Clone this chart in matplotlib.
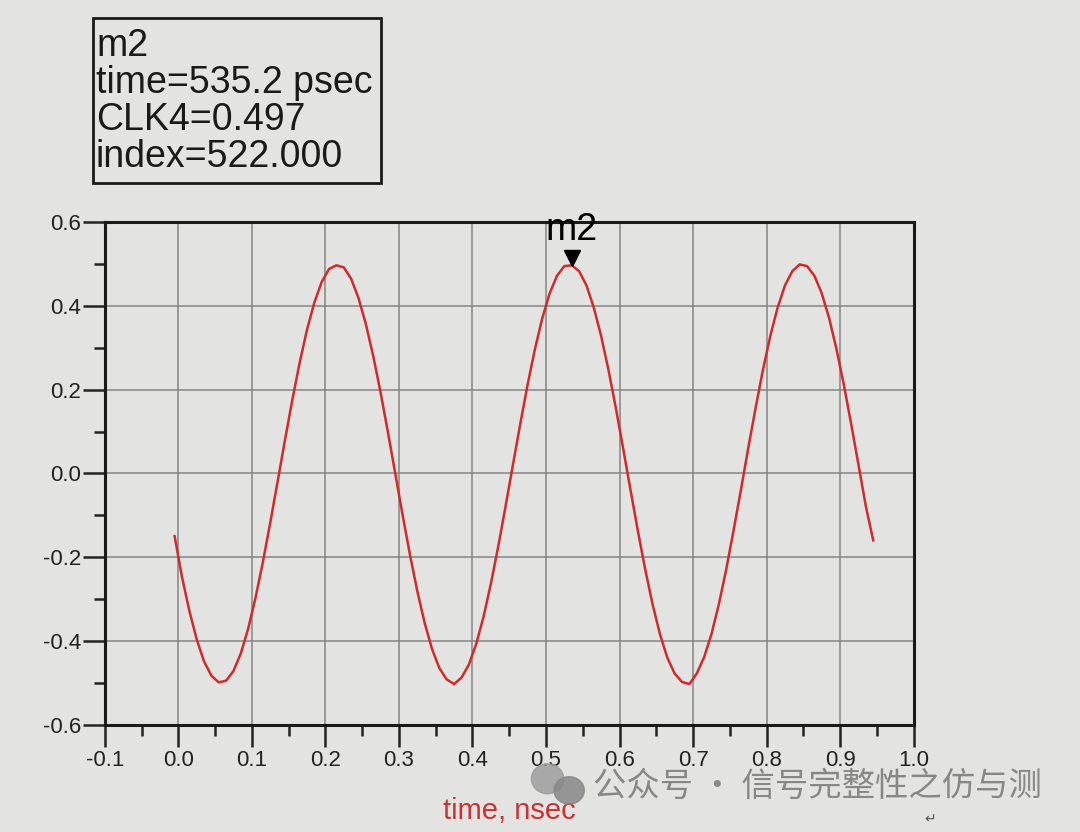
import matplotlib.pyplot as plt
from matplotlib.patches import Ellipse, Rectangle
from matplotlib.ticker import MultipleLocator

plt.rcParams['font.family'] = ['Liberation Sans', 'DejaVu Sans']

# CLK4 waveform (time in nsec, value in V), 10 ps steps
time_ns = [round(-0.005 + 0.01 * i, 3) for i in range(96)]
clk4 = [-0.150, -0.247, -0.328, -0.396, -0.449, -0.483, -0.499, -0.495, -0.472, -0.430,
        -0.371, -0.297, -0.212, -0.118, -0.020, 0.079, 0.175, 0.264, 0.343, 0.408,
        0.457, 0.488, 0.497, 0.492, 0.465, 0.419, 0.357, 0.281, 0.194, 0.099,
        0.000, -0.099, -0.194, -0.281, -0.357, -0.419, -0.465, -0.492, -0.503, -0.488,
        -0.457, -0.408, -0.343, -0.264, -0.175, -0.079, 0.020, 0.118, 0.212, 0.297,
        0.371, 0.430, 0.472, 0.495, 0.497, 0.483, 0.449, 0.396, 0.328, 0.247,
        0.156, 0.059, -0.040, -0.138, -0.230, -0.313, -0.384, -0.440, -0.478, -0.498,
        -0.503, -0.478, -0.439, -0.384, -0.313, -0.230, -0.137, -0.040, 0.060, 0.156,
        0.247, 0.328, 0.396, 0.449, 0.483, 0.499, 0.495, 0.472, 0.430, 0.371,
        0.297, 0.212, 0.118, 0.020, -0.079, -0.160]

marker_name = 'm2'
marker_time = 0.5352
marker_val = 0.497
marker_index = 522

bg = '#e3e3e1'
fig = plt.figure(figsize=(10.8, 8.32), dpi=100, facecolor=bg)
ax = fig.add_axes([0.097, 0.129, 0.749, 0.604], facecolor=bg)

ax.plot(time_ns, clk4, color='#d02a2a', lw=1.8)
ax.plot([marker_time], [marker_val + 0.018], marker='v', color='black', ms=12)
ax.text(marker_time, marker_val + 0.042, marker_name, ha='center', va='bottom', fontsize=27)

ax.set_xlim(-0.1, 1.0)
ax.set_ylim(-0.6, 0.6)
ax.xaxis.set_major_locator(MultipleLocator(0.1))
ax.xaxis.set_minor_locator(MultipleLocator(0.05))
ax.yaxis.set_major_locator(MultipleLocator(0.2))
ax.yaxis.set_minor_locator(MultipleLocator(0.1))
ax.set_xticklabels([f'{v:.1f}' for v in ax.get_xticks()])
ax.set_yticklabels([f'{v:.1f}' for v in ax.get_yticks()])
ax.grid(True, which='major', color='#858585', lw=1.1)
ax.tick_params(which='major', length=16, width=1.8, labelsize=16, pad=2, colors='#222222')
ax.tick_params(which='minor', length=8, width=1.8, colors='#222222')
ax.tick_params(axis='y', pad=1)
for s in ax.spines.values():
    s.set_linewidth(2.2)
    s.set_color('#1a1a1a')

ax.set_xlabel('time, nsec', color='#c83232', fontsize=21, labelpad=19)

# marker readout box
fig.patches.append(Rectangle((93 / 1080, 1 - 183 / 832), 288 / 1080, 165 / 832,
                             transform=fig.transFigure, fill=False, ec='#1a1a1a', lw=2))
fig.text(96 / 1080, 1 - 28 / 832,
         f'{marker_name}\ntime={marker_time * 1000:.1f} psec\nCLK4={marker_val:.3f}\nindex={marker_index:.3f}',
         ha='left', va='top', fontsize=27, linespacing=1.03, color='#1a1a1a')

# watermark
fig.patches.append(Ellipse((0.507, 0.064), 0.030, 0.036, transform=fig.transFigure,
                           color='#9a9a9a', alpha=0.8))
fig.patches.append(Ellipse((0.527, 0.050), 0.028, 0.033, transform=fig.transFigure,
                           color='#888888', alpha=0.85))
fig.text(0.549, 0.055, '公众号 · 信号完整性之仿与测', fontsize=24, color='#7d7d7d', alpha=0.9,
         ha='left', va='center', family=['Noto Sans CJK SC', 'DejaVu Sans'])
fig.text(0.856, 0.010, '↵', fontsize=10, color='#555555', family=['DejaVu Sans'])

fig.savefig('out.png', dpi=100, facecolor=bg)
